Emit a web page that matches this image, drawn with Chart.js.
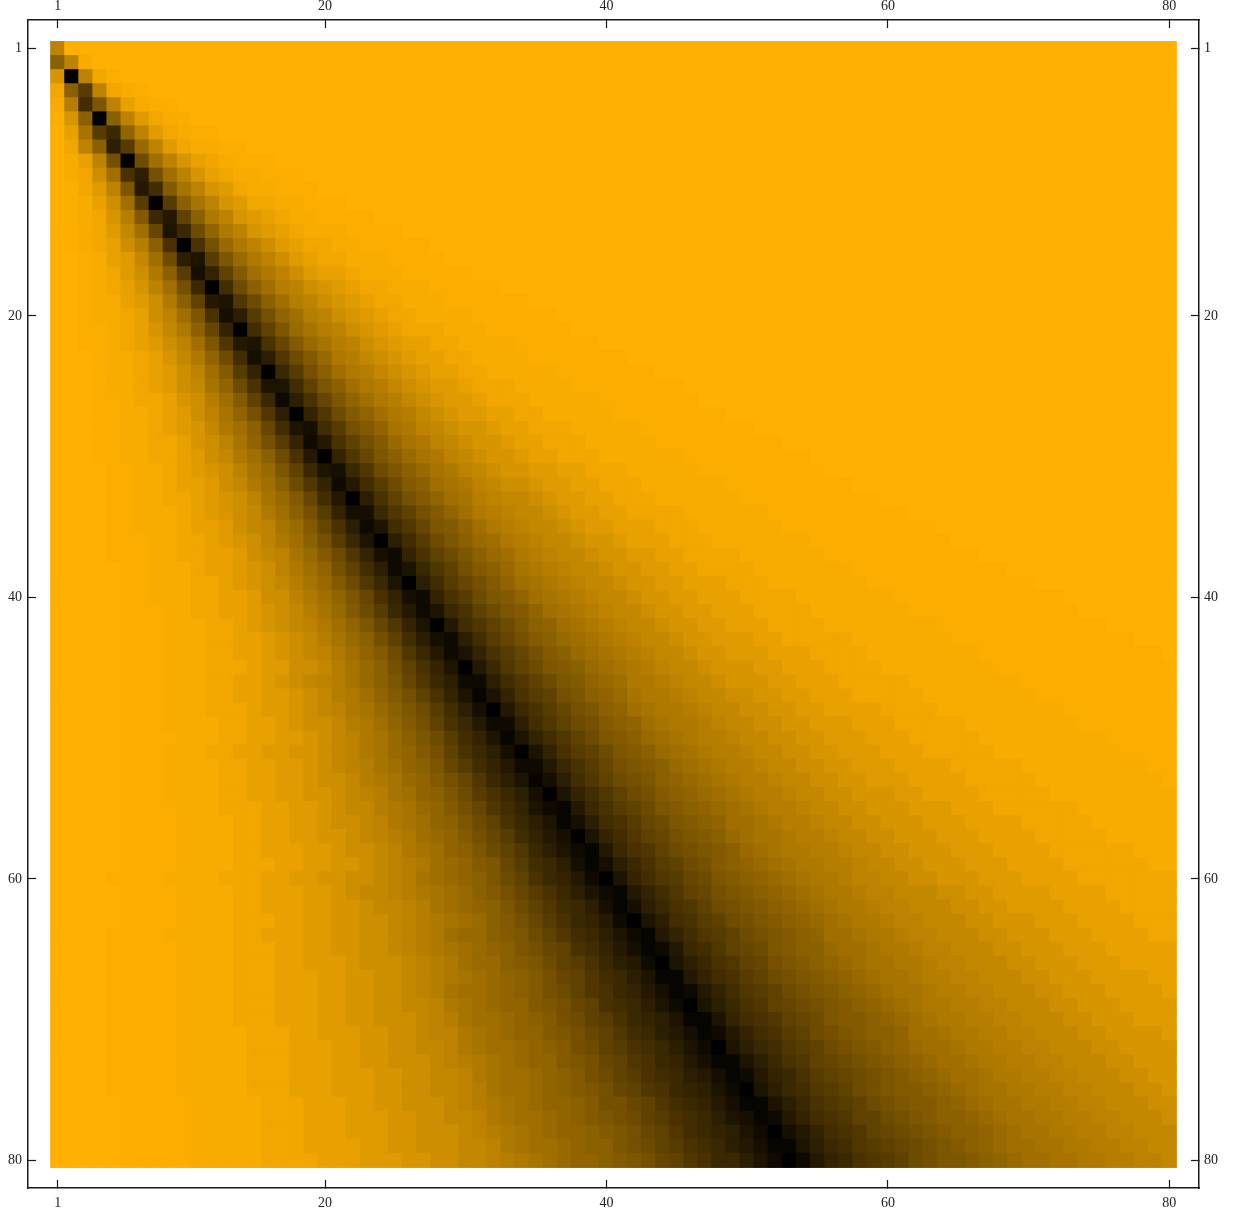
<!DOCTYPE html>
<html>
<head>
<meta charset="utf-8">
<title>Matrix plot</title>
<script src="https://cdn.jsdelivr.net/npm/chart.js@4"></script>
<style>
  html, body { margin: 0; padding: 0; background: #fff; }
  #wrap { position: relative; width: 1233px; height: 1212px; }
  canvas { filter: blur(0.35px); }
</style>
</head>
<body>
<div id="wrap"><canvas id="chart" width="1233" height="1212"></canvas></div>
<script>
const tickValues = [1, 20, 40, 60, 80];
const columnCount = 80;

// darkness of each level: 0 = full orange, 1 = black
const levelShades = [
  0, 0.01, 0.028, 0.055, 0.085, 0.12, 0.155, 0.195, 0.23, 0.26,
  0.286, 0.314, 0.343, 0.371, 0.4, 0.429, 0.457, 0.486, 0.514, 0.543,
  0.571, 0.6, 0.629, 0.657, 0.686, 0.714, 0.743, 0.771, 0.8, 0.829,
  0.857, 0.886, 0.914, 0.943, 0.971, 1,
];

// one string per row, one base-36 digit per column, read as an index into levelShades.
// rows stop where the shading has run out, the rest of such a row is 0.
const cellRows = [
  "9",
  "g92",
  "6z931",
  "3gn9321",
  "2aqi94211",
  "16gzg95321",
  "04cnrf953211",
  "039gtne9532211",
  "0249jzkd96432111",
  "0237dptjd964322111",
  "01359iuqhc965322111",
  "01247dnzngc9653322111",
  "01236ahrumgb96543221111",
  "012358dlvrkfb965432221111",
  "012347agpzpjeb9754332211111",
  "0012458dktvnieb9754332221111",
  "0012357bgnwsmhdb97544322211111",
  "00123469djrzqkgda976543322211111",
  "00122457bgmuvokgda9765433222111111",
  "001223479dipwtnjfda97654332222111111",
  "001123468bglszqmieca97654333222111111",
  "0011234579diouvplheca976544332222111111",
  "0001223468bfkqwtokheba8765443322221111111",
  "00012234579dhnszrnjgdba87654433222221111111",
  "00012234578cfkpvvqmigdba876554333222211111111",
  "00011233467adhmrxtplifdba876554333222221111111",
  "000112234579cfjotzsokhfdba8765544332222211111111",
  "000112234568bdglqvwqnjhfcb987665443332222211111111",
  "0001122334679cfjnsxupmjhecb98766544333222221" + "11111111",
  "0001122334578bdgkpuzsoligecb98" + "766544333" + "222222" + "111111111",
  "00001122345679ceimrvwrokigecb98" + "7665544333" + "22222" + "111111111",
  "00001122344578bdgkosxuqnkhgdcb98" + "7765544333" + "222222" + "111111111",
  "000011223345679cehlquztpmjhfdca98" + "8765544333" + "222222" + "1111111111",
  "000011222345678bdgjnswwromjhfdba98" + "87655443333" + "222222" + "1111111111",
  "0000112223445789cehlptx" + "vqolihfdba98" + "87655444333" + "222222" + "11111111111",
  "000011122334567" + "9bdgjnrvz" + "tqnkigedba98" + "87665444333" + "2222222" + "1111111111",
  "00001112233445789cehkosw" + "xspmkigedba98" + "876655443333" + "222222" + "11111111111",
  "00000112223445679bdfjmqtx" + "vromjhgecba98" + "876655443333" + "2222222" + "11111111111",
  "00000112223345678acehkorvz" + "tqnljhfdcba98" + "876655444333" + "2222222" + "111111111111",
  "00000112223344577" + "9bdfilpsw" + "xspnkihfdcba98" + "8766554443333" + "2222222" + "111111111111",
  "000001112233445678acehknrux" + "vrpmkihfdcba98" + "8766554443333" + "2222222" + "111111111111",
  "0000011122233456789bdfilosvz" + "uqomkigfdcba98" + "8766554443333" + "22222222" + "111111111111",
  "0000011122233445678acegjmqtw" + "xtqnljhgedcba98" + "87665554433333" + "2222222" + "1111111111111",
  "00000111222334456789bdfhkorux" + "vspnljhgedcba98" + "87665554443333" + "22222222" + "1111111111111" + "0",
  "000001112223334557" + "78acegjmpsvz" + "uromkihgedcba98" + "87666554443333" + "22222222" + "1111111111111",
  "00000" + "111222334456789acegilortx" + "xtqomkihfedbba98" + "876665544433333" + "22222222" + "11111111111",
  "00000" + "111222334455678abdfhjmpsvy" + "vspnmjigfecbba98" + "877665544433333" + "22222222" + "1111111111",
  "00000" + "1112223334556789bcegiknqtwz" + "urpnljigfdcbba98" + "877665544443333" + "222222222" + "11111111",
  "00000" + "1112222334456778abdfhjmprux" + "xtqomkjhgfdcbba98" + "8776655544433333" + "22222222" + "1111111",
  "00000" + "11112223344556789bcegiknqsvy" + "vsqomkihgedcbaa98" + "8776655544433333" + "222222222" + "11111",
  "00000" + "11122233445566789bcefhjmprtwz" + "vspnmkihgedcbaa98" + "8776655544433333" + "222222222" + "1111",
  "00000" + "11122223344556789acdfgilnqsux" + "xurpnljihgedcbaa98" + "87766555444433333" + "222222222" + "11",
  "00000" + "11122223344556778abcefhjlortvy" + "wtqomkjigfedcbaa98" + "87766555444433333" + "222222222" + "1",
  "00000" + "111222233445566789acdfgiknprtwz" + "vsqomkjhgfedcbaa98" + "87766655444433333" + "222222222",
  "00000" + "111122233344556788abcefhjloqsvx" + "yurpnmkihgfedcbaa98" + "877666555444333333" + "2222222",
  "00000" + "1111222233445567789bcdfgikmprtvy" + "wtqpnlkihgfddcbaa98" + "877666555444433333" + "222222",
  "00000" + "1111222233445566789abdefhjlnqsuwz" + "vsqomljihgedccbaa98" + "877666555444433333" + "22222",
  "00000" + "11112222334445567789bcdfgikmortvx" + "yurpomkjihgedcbbaa98" + "8776665554444333333" + "222",
  "00000" + "11112222333445566789abdefhilnqrtwy" + "wtrpnmkjhgfedcbbaa98" + "8776665554444333333" + "22",
  "00001111222233344556677" + "89a" + "cdefgikmprsuxz" + "vsqonlkihgfedcbba998" + "87766655544443333333",
  "000001111222233444556" + "77889ab".slice(1) + "cdeghjlnprtvx" + "yusqomljihgfedcbba998" + "8877665555444433333",
  "00000111122223344455667889a" + "cdefgikmoqrtwy" + "wtrpomkjihgfedcbba998" + "887766555544443333",
  "00000111122223334455667789ab" + "cdeghjlnprsuxz" + "vtqpnmkjihgfedcbba998" + "88776665554444333",
  "00001111222223344455667789ab" + "deeghikmoqrtvx" + "yusqonmkjihgfddcbba998" + "8877666555444433",
  "00001111122223334455667789ab" + "cdefgijlmpqsuwy" + "xurqomlkihggeddcbba998" + "887766655544444",
  "000011111222233344555677789ab" + "deeghikmnprtuxz" + "vtrpomljihgfedccbba998" + "88776665554444",
  "000011111222233344455667789ab" + "cdefghjlmoqrtvy" + "yusqpnmkjihgfedccbaa998" + "8877666555544",
  "000011111222233344455667789a" + "cddefghjkmoprsuwy" + "xusqonmkjihgfedccbaa998" + "887766655554",
  "0000111112222333444556677889" + "bcdeffhijlmpqrtvxz" + "vtrpomlkjihgfedcbbaa998" + "88776665555",
  "0000111112222333444556677789a" + "cddefghjkmnprstvy" + "yvsqpomlkihhgfedcbbaa998" + "8877666555",
  "00001111122222333445556677899" + "bcdeffhijlmoqrtuwy" + "xusqpnmkjihggfddcbbaa998" + "887766665",
  "00001111122222333444556677889" + "bcddefghjkmnpqrtvxz" + "vtrqonmkjihgfeddcbbaa998" + "88776666",
  "00001111122222333444556677789a" + "bcdeffhijlmoprsuwy" + "yvtrpomlkjihgfeddcbbaa998" + "8877666",
  "000011111222223334445556677889" + "bcddefghjkmnpqrtuwy" + "xusrpnmlkjihgfeddcbbaa998" + "887766",
  "000011111222223334445556677889a" + "cddefghijlmoprstvxz" + "vtrqonmkjihhgfedccbbaa998" + "88776",
  "000001111122222333444556677789a" + "bcdeffghjjlmoqrsuwy" + "yvtrponmkjihhgfedccbbaa998" + "8877",
  "0000011111222223334445556677889" + "bcddefghijkmnpqrtvwy" + "xusqpommkjihggfedccbbaa998" + "887",
  "0000011111222223334445556677789a" + "bcdeffghijlmoqrstvxz" + "wusqpomlkjihggfedccbbaa998" + "88",
  "00000111112222233344445566777889" + "bcddefggijkmnpqrtuwy" + "yvtrqonmlkjihgfeddccbbaa998" + "8",
  "00000111112222233334445556677889a" + "bcdeffghijlmoprrtvxz" + "xusrponmkjiihgfeddccbbaa998",
];

const cellPoints = [];
cellRows.forEach((text, rowIndex) => {
  const row = text.padEnd(columnCount, "0");
  for (let column = 0; column < columnCount; column += 1) {
    cellPoints.push({ x: column + 1, y: rowIndex + 1, level: parseInt(row[column], 36) });
  }
});

function cellColor(context) {
  const light = 1 - levelShades[context.raw ? context.raw.level : 0];
  return `rgb(${Math.round(255 * light)}, ${Math.round(176 * light)}, 0)`;
}

function cellRadius(context) {
  const scale = context.chart.scales.x;
  if (!scale) return 0;
  const size = Math.abs(scale.getPixelForValue(2) - scale.getPixelForValue(1));
  // half a pixel of overlap so no seams show between neighbouring cells
  return (size / 2 + 0.5) * Math.SQRT2;
}

function axis(position, min, max, reverse, size, padding) {
  return {
    type: "linear",
    position,
    min,
    max,
    reverse,
    border: { display: true, color: "#1a1a1a", width: 1.5 },
    grid: { drawOnChartArea: false, drawTicks: true, tickLength: -8, tickColor: "#1a1a1a", tickWidth: 1.2 },
    ticks: {
      autoSkip: false,
      maxRotation: 0,
      padding,
      color: "#222",
      font: { family: "'Liberation Serif', serif", size: 14 },
      callback: (value) => String(value),
    },
    afterBuildTicks: (scale) => {
      scale.ticks = tickValues.map((value) => ({ value }));
    },
    afterFit: (scale) => {
      if (scale.isHorizontal()) scale.height = size;
      else scale.width = size;
      // the frame is placed by hand, end labels may not push it inwards
      scale.paddingTop = 0;
      scale.paddingBottom = 0;
      scale.paddingLeft = 0;
      scale.paddingRight = 0;
    },
  };
}

new Chart(document.querySelector("#chart"), {
  type: "scatter",
  data: {
    datasets: [{
      data: cellPoints,
      pointStyle: "rect",
      pointRadius: cellRadius,
      pointHoverRadius: cellRadius,
      pointBorderWidth: 0,
      backgroundColor: cellColor,
      borderColor: cellColor,
    }],
  },
  options: {
    responsive: false,
    animation: false,
    events: [],
    layout: { padding: 0 },
    plugins: { legend: { display: false }, tooltip: { enabled: false } },
    scales: {
      x: axis("bottom", -1.11, 82.11, false, 24, 15),
      x2: axis("top", -1.11, 82.11, false, 20, 13),
      y: axis("left", -1.03, 81.96, true, 28, 14),
      y2: axis("right", -1.03, 81.96, true, 34, 13),
    },
  },
});
</script>
</body>
</html>
